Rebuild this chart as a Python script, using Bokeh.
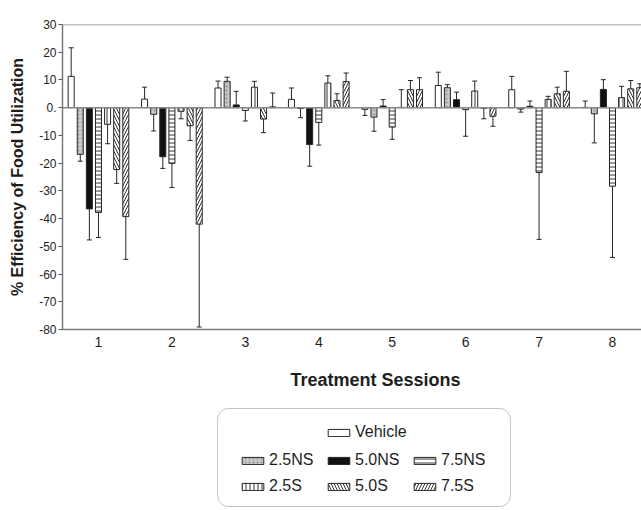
from bokeh.plotting import figure
from bokeh.models import (Range1d, FixedTicker, Span, Title, Legend, LegendItem,
                          BoxAnnotation, ColumnDataSource)
from bokeh.transform import dodge
from bokeh.layouts import column
from bokeh.embed import file_html
from bokeh.resources import INLINE

# ---------------- data ----------------
sessions = [1, 2, 3, 4, 5, 6, 7, 8]
session_labels = ["1", "2", "3", "4", "5", "6", "7", "8"]
series_names = ["Vehicle", "2.5NS", "5.0NS", "7.5NS", "2.5S", "5.0S", "7.5S"]

vehicle = [11.3, 3.1, 7.1, 3.0, -0.6, 8.0, 6.5, 0.1]
vehicle_err = [10.3, 4.3, 2.5, 4.1, 2.2, 4.8, 4.8, 2.3]
ns25 = [-16.8, -2.4, 9.5, -0.3, -3.4, 7.2, -0.5, -2.2]
ns25_err = [2.5, 6.0, 1.5, 3.3, 5.1, 1.1, 1.1, 10.5]
ns50 = [-36.5, -17.7, 1.0, -13.3, 0.6, 2.9, 0.5, 6.6]
ns50_err = [11.2, 4.2, 4.9, 7.8, 2.3, 2.7, 1.9, 3.5]
ns75 = [-37.8, -20.1, -1.0, -5.3, -7.0, -0.7, -23.4, -28.3]
ns75_err = [9.0, 8.7, 3.8, 8.2, 4.4, 9.6, 24.1, 25.7]
s25 = [-6.0, -1.3, 7.4, 8.9, 0.1, 6.0, 3.0, 3.6]
s25_err = [7.0, 2.7, 2.1, 2.6, 6.4, 3.6, 1.1, 4.1]
s50 = [-22.3, -6.5, -4.1, 2.6, 6.5, -0.2, 5.0, 6.8]
s50_err = [5.0, 5.3, 4.9, 2.4, 3.3, 3.8, 2.4, 3.0]
s75 = [-39.3, -42.0, 0.3, 9.4, 6.5, -3.1, 5.9, 7.2]
s75_err = [15.4, 37.1, 5.0, 3.1, 4.3, 3.6, 7.2, 1.4]

y_ticks = [-80, -70, -60, -50, -40, -30, -20, -10, 0, 10, 20, 30]
y_tick_labels = ["-80", "-70", "-60", "-50", "-40", "-30", "-20", "-10", "0.", "10", "20", "30"]

values = [vehicle, ns25, ns50, ns75, s25, s50, s75]
errors = [vehicle_err, ns25_err, ns50_err, ns75_err, s25_err, s50_err, s75_err]

# ---------------- styles ----------------
FONT = "Liberation Sans"
TXT = "#1e1e1e"
OUT = "#262626"
styles = {
    "Vehicle": dict(fill_color="white"),
    "2.5NS": dict(fill_color="#c8c8c8", hatch_pattern="dot", hatch_color="#8f8f8f",
                  hatch_scale=4, hatch_weight=1),
    "5.0NS": dict(fill_color="#111111"),
    "7.5NS": dict(fill_color="white", hatch_pattern="horizontal_line", hatch_color="#333333",
                  hatch_scale=4, hatch_weight=1),
    "2.5S": dict(fill_color="white", hatch_pattern="vertical_line", hatch_color="#333333",
                 hatch_scale=4, hatch_weight=1),
    "5.0S": dict(fill_color="white", hatch_pattern="left_diagonal_line", hatch_color="#333333",
                 hatch_scale=6, hatch_weight=1),
    "7.5S": dict(fill_color="white", hatch_pattern="right_diagonal_line", hatch_color="#333333",
                 hatch_scale=6, hatch_weight=1),
}
BAR_W = 0.082
STEP = 0.124
FRAME_L = 62     # frame left edge (px)
W = 641
H1 = 407
H2 = 510 - H1

# ---------------- main chart ----------------
p = figure(width=W, height=H1, x_range=Range1d(0.51, 8.395), y_range=Range1d(-80, 30),
           output_backend="svg", toolbar_location=None,
           min_border_left=FRAME_L, min_border_right=0, min_border_top=24, min_border_bottom=10)
p.outline_line_color = None
p.xgrid.grid_line_color = None
p.ygrid.grid_line_color = None

for i, name in enumerate(series_names):
    v = values[i]
    e = errors[i]
    tip = [vv + ee if vv >= 0 else vv - ee for vv, ee in zip(v, e)]
    src = ColumnDataSource(dict(x=sessions, v=v, tip=tip))
    off = (i - 3) * STEP
    p.vbar(x=dodge("x", off), top="v", bottom=0, width=BAR_W, source=src,
           line_color=OUT, line_width=1, **styles[name])
    p.segment(x0=dodge("x", off), y0="v", x1=dodge("x", off), y1="tip", source=src,
              line_color=OUT, line_width=1)
    p.scatter(x=dodge("x", off), y="tip", marker="dash", size=5, source=src,
              line_color=OUT, line_width=1)

p.add_layout(Span(location=0, dimension="width", line_color="#8a8a8a", line_width=1.5))
p.add_layout(Span(location=30, dimension="width", line_color="#8a8a8a", line_width=1.5))

# y axis
p.yaxis.ticker = FixedTicker(ticks=y_ticks)
p.yaxis.major_label_overrides = {t: lab for t, lab in zip(y_ticks, y_tick_labels)}
p.yaxis.minor_tick_line_color = None
p.yaxis.major_tick_out = 4
p.yaxis.major_tick_in = 0
p.yaxis.axis_line_color = "#7a7a7a"
p.yaxis.axis_line_width = 1.5
p.yaxis.major_tick_line_color = "#555555"
p.yaxis.major_label_text_font = FONT
p.yaxis.major_label_text_font_size = "12px"
p.yaxis.major_label_text_color = TXT
p.yaxis.major_label_standoff = 2
p.yaxis.axis_label = "% Efficiency of Food Utilization"
p.yaxis.axis_label_text_font = FONT
p.yaxis.axis_label_text_font_size = "16px"
p.yaxis.axis_label_text_font_style = "bold"
p.yaxis.axis_label_text_color = TXT
p.yaxis.axis_label_standoff = 10

# x axis
p.xaxis.ticker = FixedTicker(ticks=sessions)
p.xaxis.major_label_overrides = {s: lab for s, lab in zip(sessions, session_labels)}
p.xaxis.minor_tick_line_color = None
p.xaxis.major_tick_line_color = None
p.xaxis.major_tick_out = 0
p.xaxis.major_tick_in = 0
p.xaxis.axis_line_color = "#7a7a7a"
p.xaxis.axis_line_width = 1.5
p.xaxis.major_label_text_font = FONT
p.xaxis.major_label_text_font_size = "14px"
p.xaxis.major_label_text_color = TXT
p.xaxis.major_label_standoff = 7

p.add_layout(Title(text="Treatment Sessions", align="left", offset=228, standoff=36,
                   text_font=FONT, text_font_size="18px", text_font_style="bold",
                   text_color=TXT), "below")

# ---------------- legend panel ----------------
q = figure(width=W, height=H2, x_range=Range1d(FRAME_L, W), y_range=Range1d(0, H2),
           output_backend="svg", toolbar_location=None, x_axis_type=None, y_axis_type=None,
           min_border=0, min_border_left=FRAME_L, min_border_right=0)
q.outline_line_color = None
q.xgrid.grid_line_color = None
q.ygrid.grid_line_color = None

# rounded legend box, in page pixels (q's data units are pixels, y counted up from the bottom)
q.add_layout(BoxAnnotation(left=217, right=510, top=510 - 408, bottom=510 - 506,
                           fill_color=None, line_color="#3a3a3a", line_width=1,
                           border_radius=11))

# legend swatch proxies, placed far outside the visible area
proxies = {}
for name in series_names:
    proxies[name] = q.vbar(x=[-5000], top=[-5000], bottom=[-5001], width=1, line_color=OUT,
                           line_width=1, **styles[name])

leg_common = dict(label_text_font=FONT, label_text_font_size="16px", label_text_color=TXT,
                  glyph_width=27, glyph_height=9, label_standoff=3, spacing=8, padding=0,
                  margin=0, border_line_color=None, background_fill_alpha=0,
                  label_height=18)
leg1 = Legend(items=[LegendItem(label="Vehicle", renderers=[proxies["Vehicle"]])],
              location=(325 - FRAME_L, 69), **leg_common)
leg2 = Legend(items=[LegendItem(label=n, renderers=[proxies[n]]) for n in
                     ["2.5NS", "5.0NS", "7.5NS", "2.5S", "5.0S", "7.5S"]],
              location=(239 - FRAME_L, 15), orientation="horizontal", ncols=3, label_width=48,
              **leg_common)
q.add_layout(leg1)
q.add_layout(leg2)

layout = column(p, q, spacing=0)
open("out.html", "w").write(file_html(layout, INLINE))
